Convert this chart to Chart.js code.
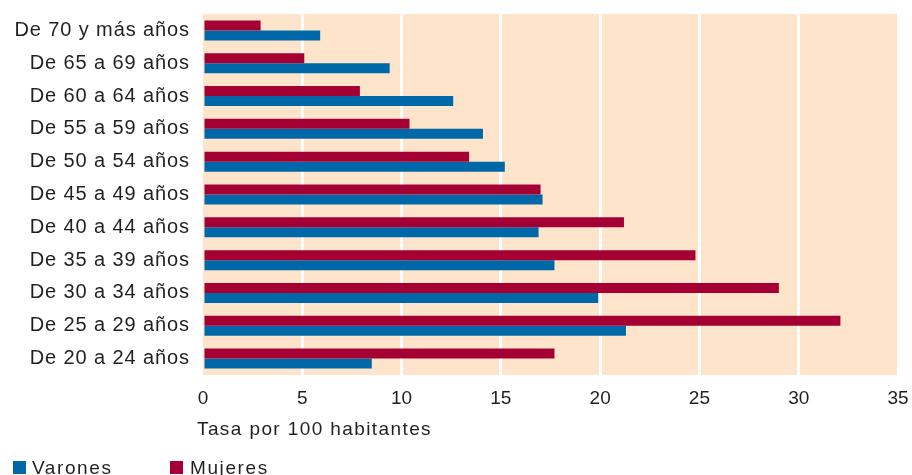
<!DOCTYPE html>
<html>
<head>
<meta charset="utf-8">
<script src="https://cdn.jsdelivr.net/npm/chart.js@4/dist/chart.umd.min.js"></script>
<style>
  html, body { margin: 0; padding: 0; background: #ffffff; }
  #wrap { position: relative; width: 912px; height: 475px; }
  canvas { display: block; }
  .lg { position: absolute; top: 458px; font: 19px "Liberation Sans", Arial, sans-serif; letter-spacing: 1.6px; color: #231f20; line-height: 19px; white-space: nowrap; }
  .sw { position: absolute; top: 461px; width: 13px; height: 13px; }
</style>
</head>
<body>
<div id="wrap">
  <canvas id="c" width="912" height="475"></canvas>
  <div class="sw" style="left:13px;background:#0068A9"></div>
  <div class="lg" style="left:32px">Varones</div>
  <div class="sw" style="left:170px;background:#A50034"></div>
  <div class="lg" style="left:190px">Mujeres</div>
</div>
<script>
const categories = [
  "De 70 y más años",
  "De 65 a 69 años",
  "De 60 a 64 años",
  "De 55 a 59 años",
  "De 50 a 54 años",
  "De 45 a 49 años",
  "De 40 a 44 años",
  "De 35 a 39 años",
  "De 30 a 34 años",
  "De 25 a 29 años",
  "De 20 a 24 años"
];
const mujeres = [2.9, 5.1, 7.9, 10.4, 13.4, 17.0, 21.2, 24.8, 29.0, 32.1, 17.7];
const varones = [5.9, 9.4, 12.6, 14.1, 15.2, 17.1, 16.9, 17.7, 19.9, 21.3, 8.5];
const xTicks = [0, 5, 10, 15, 20, 25, 30, 35];
const axisTitle = "Tasa por 100 habitantes";

const FONT = "'Liberation Sans', Arial, sans-serif";
const TEXT = "#231f20";

const bgPlugin = {
  id: "bg",
  beforeDraw(chart) {
    const { ctx, chartArea: a } = chart;
    ctx.save();
    ctx.fillStyle = "#FDE4CA";
    ctx.fillRect(a.left, a.top, a.right - a.left + 1.5, a.bottom - a.top);
    ctx.restore();
  }
};

function spaced(fnName, spacing, dx) {
  return function (scale) {
    const proto = Object.getPrototypeOf(scale);
    scale[fnName] = function (ca) {
      const c = this.ctx;
      c.save();
      c.letterSpacing = spacing + "px";
      if (dx) c.translate(dx, 0);
      proto[fnName].call(this, ca);
      c.restore();
    };
  };
}
const ySpacing = spaced("drawLabels", 0.9, 0);
const xTitleSpacing = spaced("drawTitle", 1.4, -6);

new Chart(document.getElementById("c"), {
  type: "bar",
  data: {
    labels: categories,
    datasets: [
      { label: "Mujeres", data: mujeres, backgroundColor: "#A50034", borderWidth: 0 },
      { label: "Varones", data: varones, backgroundColor: "#0068A9", borderWidth: 0 }
    ]
  },
  options: {
    indexAxis: "y",
    responsive: false,
    animation: false,
    devicePixelRatio: 1,
    layout: { padding: { top: 14, right: 14, left: 0, bottom: 0 } },
    datasets: { bar: { categoryPercentage: 0.61, barPercentage: 1.0 } },
    plugins: { legend: { display: false }, tooltip: { enabled: false } },
    scales: {
      x: {
        min: 0, max: 35,
        afterBuildTicks(scale) { scale.ticks = xTicks.map(v => ({ value: v })); },
        afterFit(scale) {
          scale.height = 100;
          scale.paddingLeft = 0; scale.paddingRight = 0;
          scale.paddingTop = 0; scale.paddingBottom = 0;
          xTitleSpacing(scale);
        },
        border: { display: false },
        grid: {
          drawTicks: false,
          lineWidth: 3,
          color: ctx => (ctx.tick && ctx.tick.value === 0) ? "rgba(0,0,0,0)" : "#ffffff"
        },
        ticks: { padding: 12, color: TEXT, font: { family: FONT, size: 19 } },
        title: {
          display: true, text: axisTitle, align: "start", color: TEXT,
          font: { family: FONT, size: 19 },
          padding: { top: 0, bottom: 34 }
        }
      },
      y: {
        afterFit(scale) {
          scale.width = 203;
          scale.paddingLeft = 0; scale.paddingRight = 0;
          scale.paddingTop = 0; scale.paddingBottom = 0;
          ySpacing(scale);
        },
        border: { display: false },
        grid: { display: false, drawTicks: false },
        ticks: { padding: 13, color: TEXT, font: { family: FONT, size: 20 } }
      }
    }
  },
  plugins: [bgPlugin]
});
</script>
</body>
</html>
